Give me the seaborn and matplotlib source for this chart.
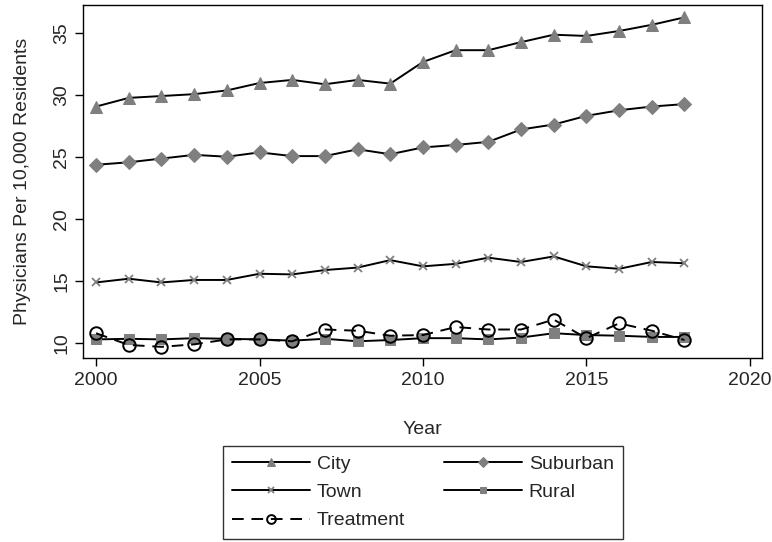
import seaborn as sns
import matplotlib.pyplot as plt
import pandas as pd

# data
years = list(range(2000, 2019))
city = [29.1, 29.8, 29.95, 30.1, 30.4, 31.0, 31.25, 30.9, 31.25, 30.95,
        32.7, 33.65, 33.65, 34.3, 34.9, 34.8, 35.2, 35.7, 36.3]
suburban = [24.4, 24.6, 24.9, 25.2, 25.05, 25.4, 25.1, 25.1, 25.65, 25.25,
            25.8, 26.0, 26.25, 27.25, 27.65, 28.35, 28.8, 29.1, 29.3]
town = [14.9, 15.2, 14.9, 15.1, 15.1, 15.6, 15.55, 15.9, 16.1, 16.7,
        16.2, 16.4, 16.9, 16.55, 17.0, 16.2, 16.0, 16.55, 16.45]
rural = [10.3, 10.35, 10.3, 10.4, 10.35, 10.3, 10.2, 10.35, 10.15, 10.25,
         10.4, 10.4, 10.3, 10.45, 10.8, 10.65, 10.6, 10.5, 10.5]
treatment = [10.8, 9.85, 9.7, 9.9, 10.3, 10.3, 10.15, 11.1, 11.0, 10.6,
             10.65, 11.3, 11.1, 11.1, 11.9, 10.4, 11.6, 11.0, 10.25]

sns.set_style("ticks")
plt.rcParams["font.family"] = ["Liberation Sans", "DejaVu Sans"]

fig = plt.figure(figsize=(7.72, 5.42), dpi=100)
ax = fig.add_axes([0.1075, 0.3395, 0.8795, 0.6513])

grey = "#7f7f7f"
solid = dict(color="black", linewidth=1.4, markerfacecolor=grey,
             markeredgecolor=grey)
sns.lineplot(x=years, y=city, ax=ax, marker="^", markersize=8, label="City", **solid)
sns.lineplot(x=years, y=suburban, ax=ax, marker="D", markersize=7, label="Suburban", **solid)
sns.lineplot(x=years, y=town, ax=ax, marker="x", markersize=6, label="Town",
             color="black", linewidth=1.4, markeredgecolor=grey, markeredgewidth=1.3)
sns.lineplot(x=years, y=rural, ax=ax, marker="s", markersize=7, label="Rural", **solid)
sns.lineplot(x=years, y=treatment, ax=ax, marker="o", markersize=9, label="Treatment",
             color="black", linewidth=1.4, linestyle=(0, (6, 4)),
             markerfacecolor="none", markeredgecolor="black", markeredgewidth=1.4)

ax.set_xlim(1999.6, 2020.37)
ax.set_ylim(8.8, 37.3)
ax.set_xticks([2000, 2005, 2010, 2015, 2020])
ax.set_yticks([10, 15, 20, 25, 30, 35])
ax.tick_params(labelsize=14, length=6, width=1, color="black", pad=4)
ax.tick_params(axis="y", pad=3)
for lab in ax.get_yticklabels():
    lab.set_rotation(90)
    lab.set_va("center")
for s in ax.spines.values():
    s.set_visible(True)
    s.set_linewidth(1.0)
    s.set_color("black")

ax.set_xlabel("Year", fontsize=14, labelpad=23)
ax.set_ylabel("Physicians Per 10,000 Residents", fontsize=14, labelpad=16)

handles, labels = ax.get_legend_handles_labels()
ax.get_legend().remove()
# matplotlib fills legend columns first; reorder so rows read City/Suburban, Town/Rural, Treatment
order = [0, 2, 4, 1, 3]
fig.legend([handles[i] for i in order], [labels[i] for i in order],
           loc="upper center", bbox_to_anchor=(0.548, 0.178), borderaxespad=0,
           ncol=2, fontsize=14, frameon=True, fancybox=False, edgecolor="black",
           handlelength=4.0, numpoints=1, columnspacing=2.0,
           handletextpad=0.35, labelspacing=0.55, borderpad=0.5, markerscale=0.7)
fig.legends[0].get_frame().set_linewidth(1.0)

fig.savefig("out.png", dpi=100)
